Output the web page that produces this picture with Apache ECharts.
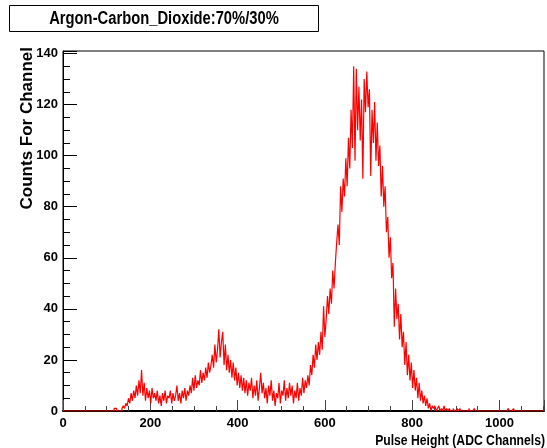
<!DOCTYPE html>
<html>
<head>
<meta charset="utf-8">
<script src="https://cdn.jsdelivr.net/npm/echarts@6/dist/echarts.min.js"></script>
<style>html,body{margin:0;padding:0;background:#fff}#c{width:547px;height:448px}</style>
</head>
<body>
<div id="c"></div>
<script>
// Histogram: bins of 3 ADC channels, first bin starts at channel 117
const binStart = 117;
const binWidth = 3;
const counts = [
  1,1,0,0,0,0,1,2,1,3, 2,5,3,7,4,8,5,10,6,12,
  7,16,6,11,4,9,5,8,3,9, 5,7,4,8,3,6,2,7,4,8,
  3,6,5,8,3,7,4,6,10,4, 7,3,8,5,9,4,8,6,10,7,
  13,8,14,9,12,10,16,11,15,12, 17,13,19,15,18,22,17,26,19,24,
  32,21,27,31,18,26,16,22,15,20, 13,19,12,17,10,15,9,14,8,13,
  7,12,6,11,8,13,5,10,6,12, 4,9,15,7,11,5,9,3,10,6,
  12,4,8,2,7,5,11,3,8,6, 12,4,9,5,11,6,10,3,8,5,
  11,4,9,6,13,7,12,9,14,10, 18,14,22,17,26,20,27,22,31,24,
  41,29,36,45,38,48,42,55,48,58, 66,73,65,88,78,91,84,99,88,107,
  95,118,103,135,98,134,110,127,106,122, 91,130,117,133,119,126,92,118,105,121,
  98,113,96,104,84,96,80,88,70,76, 60,68,52,58,33,48,36,42,28,38,
  25,31,18,27,14,22,12,19,9,16, 8,13,5,11,4,8,3,6,2,5,
  1,3,0,2,1,2,0,1,2,0, 1,0,2,0,1,0,1,0,0,1,
  0,0,1,0,1,0,0,0,0,0, 0,1,0,0,0,1,0,0,0,0,
  0,0,0,0,0,0,0,0,0,0, 0,0,0,0,0,0,0,0,0,0,
  0,1,0,0,0,1,0,0,0,0, 0,0,0,0,0,0,0,0,0,0,
  0,0,0,0,0,0,0,0
];
const xTicks = [0, 200, 400, 600, 800, 1000];
const yTicks = [0, 20, 40, 60, 80, 100, 120, 140];
const titleText = 'Argon-Carbon_Dioxide:70%/30%';
const xTitle = 'Pulse Height (ADC Channels)';
const yTitle = 'Counts For Channel';

const data = [[0, 0]];
counts.forEach((c, i) => data.push([binStart + i * binWidth, c]));
data.push([binStart + counts.length * binWidth, counts[counts.length - 1]]);

const sans = "'Liberation Sans', Arial, sans-serif";
const chart = echarts.init(document.getElementById('c'), null, {renderer: 'canvas'});
chart.setOption({
  animation: false,
  backgroundColor: '#fff',
  grid: {left: 63, top: 51, right: -3, bottom: 37, show: true, borderColor: '#000', borderWidth: 1, backgroundColor: 'transparent'},
  xAxis: {
    type: 'value', min: 0, max: 1102, interval: 200,
    axisLine: {show: true, onZero: false, lineStyle: {color: '#000', width: 2}},
    axisTick: {show: true, inside: true, length: 11, lineStyle: {color: '#444', width: 1}},
    minorTick: {show: true, splitNumber: 4, length: 5, lineStyle: {color: '#444', width: 1}},
    splitLine: {show: false},
    axisLabel: {
      margin: 6, color: '#000', fontFamily: sans, fontWeight: 'bold', fontSize: 13,
      formatter: v => xTicks.includes(v) ? String(v) : ''
    }
  },
  yAxis: {
    type: 'value', min: 0, max: 141, interval: 20,
    axisLine: {show: true, onZero: false, lineStyle: {color: '#000', width: 1}},
    axisTick: {show: true, inside: true, length: 14, lineStyle: {color: '#000', width: 1}},
    minorTick: {show: true, splitNumber: 4, length: 7, lineStyle: {color: '#000', width: 1}},
    splitLine: {show: false},
    axisLabel: {
      margin: 5, color: '#000', fontFamily: sans, fontWeight: 'bold', fontSize: 13,
      formatter: v => yTicks.includes(v) ? String(v) : ''
    }
  },
  series: [{
    type: 'line', step: 'end', data: data, symbol: 'none', silent: true,
    lineStyle: {color: '#ff0000', width: 1.2}, itemStyle: {color: '#ff0000'}, clip: true
  }],
  graphic: [
    {type: 'rect', shape: {x: 9.5, y: 5.5, width: 309, height: 26}, style: {fill: '#fff', stroke: '#000', lineWidth: 1}, z: 10},
    {type: 'text', x: 164, y: 19, scaleX: 0.82, z: 11, style: {text: titleText, fill: '#000', font: "bold 18px 'Liberation Sans', Arial", align: 'center', verticalAlign: 'middle'}},
    {type: 'text', x: 545, y: 441, scaleX: 0.84, z: 11, style: {text: xTitle, fill: '#000', font: "bold 14.5px 'Liberation Sans', Arial", align: 'right', verticalAlign: 'middle'}},
    {type: 'text', x: 27, y: 47, rotation: Math.PI / 2, z: 11, style: {text: yTitle, fill: '#000', font: "bold 17px 'Liberation Sans', Arial", align: 'right', verticalAlign: 'middle'}}
  ]
});
</script>
</body>
</html>
